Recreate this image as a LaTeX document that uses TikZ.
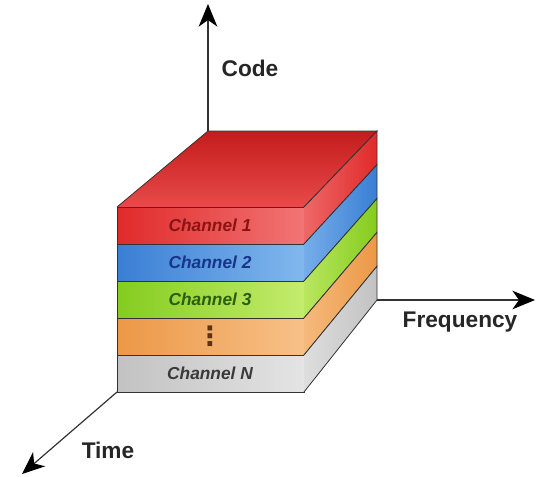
\documentclass[tikz,border=0pt]{standalone}
\usepackage{fontspec}
\setmainfont{Liberation Sans}
\newfontfamily\dotsfont{DejaVu Sans}
\usetikzlibrary{arrows.meta}

\definecolor{topdark}{HTML}{C41C1C}
\definecolor{toplight}{HTML}{E84A4A}
\definecolor{reddk}{HTML}{E02A2A}
\definecolor{redlt}{HTML}{F58282}
\definecolor{bluedk}{HTML}{3A7ED4}
\definecolor{bluelt}{HTML}{8EC2F2}
\definecolor{greendk}{HTML}{84CC1E}
\definecolor{greenlt}{HTML}{D0F27C}
\definecolor{orangedk}{HTML}{EC9846}
\definecolor{orangelt}{HTML}{F9C894}
\definecolor{greydk}{HTML}{C2C2C2}
\definecolor{greylt}{HTML}{EAEAEA}
\definecolor{redtxt}{HTML}{8A1414}
\definecolor{bluetxt}{HTML}{17358A}
\definecolor{greentxt}{HTML}{2A5E0E}
\definecolor{orangetxt}{HTML}{5E3410}
\definecolor{greytxt}{HTML}{3A3A3A}

\begin{document}
\begin{tikzpicture}[x=0.75pt,y=-0.75pt,
    axis/.style={draw=black!80, line width=0.9pt, -{Stealth[length=17pt,width=14pt,inset=5pt,color=black]}},
    axislabel/.style={font=\fontsize{17}{19}\selectfont\bfseries, text=black!85},
    chanlabel/.style={font=\fontsize{13}{15}\selectfont\bfseries\itshape},
    edge/.style={draw=black!80, line width=0.6pt}]
  \useasboundingbox (0,0) rectangle (536,476);
  % corners of the block
  \coordinate (ftl) at (117,207);
  \coordinate (ftr) at (304,207);
  \coordinate (fbl) at (117,392);
  \coordinate (btl) at (208,131);
  \coordinate (btr) at (377,131);
  \coordinate (bbr) at (377,300);
  % axis ends
  \coordinate (codeend) at (208,4);
  \coordinate (freqend) at (535,300);
  \coordinate (timeend) at (22,474);
  % top face
  \shade[top color=topdark, bottom color=toplight] (ftl) -- (btl) -- (btr) -- (ftr) -- cycle;
  \draw[edge] (ftl) -- (btl) -- (btr) -- (ftr);
  % channel bands, front and right side
  \foreach \i/\dk/\lt/\tc/\txt in {0/reddk/redlt/redtxt/{Channel 1},
      1/bluedk/bluelt/bluetxt/{Channel 2},
      2/greendk/greenlt/greentxt/{Channel 3},
      3/orangedk/orangelt/orangetxt/{\dotsfont\bfseries\fontsize{20}{20}\selectfont ⋮},
      4/greydk/greylt/greytxt/{Channel N}} {
    \shade[left color=\dk, middle color=\lt, right color=\lt!85!\dk]
      (117,{207+37*\i}) rectangle (304,{244+37*\i});
    \draw[edge] (117,{207+37*\i}) rectangle (304,{244+37*\i});
    \shade[left color=\lt!70!\dk, right color=\dk]
      (304,{207+37*\i}) -- (377,{131+33.8*\i}) -- (377,{164.8+33.8*\i})
      -- (304,{244+37*\i}) -- cycle;
    \draw[edge] (304,{207+37*\i}) -- (377,{131+33.8*\i}) -- (377,{164.8+33.8*\i})
      -- (304,{244+37*\i});
    \node[chanlabel, text=\tc] (ch\i) at (210,{225.5+37*\i}) {\txt};
  }
  % axes
  \draw[axis] (btl) -- (codeend);
  \draw[axis] (bbr) -- (freqend);
  \draw[axis] (fbl) -- (timeend);
  \node[axislabel] (code) at (250,68) {Code};
  \node[axislabel] (freq) at (460,322) {Frequency};
  \node[axislabel] (time) at (108,450) {Time};
\end{tikzpicture}
\end{document}
